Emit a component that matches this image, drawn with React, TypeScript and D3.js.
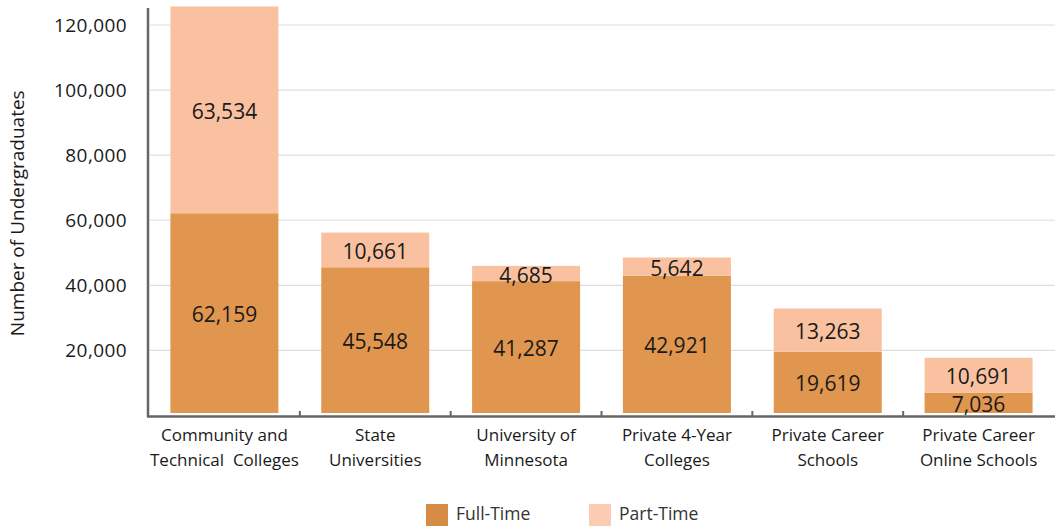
import React from "react";
import * as d3 from "d3";

const categories = [
  ["Community and", "Technical  Colleges"],
  ["State", "Universities"],
  ["University of", "Minnesota"],
  ["Private 4-Year", "Colleges"],
  ["Private Career", "Schools"],
  ["Private Career", "Online Schools"],
];
const fullTime = [62159, 45548, 41287, 42921, 19619, 7036];
const partTime = [63534, 10661, 4685, 5642, 13263, 10691];
const yTicks = [20000, 40000, 60000, 80000, 100000, 120000];
const seriesNames = ["Full-Time", "Part-Time"];

const W = 1055;
const H = 527;
const FONT = "'Open Sans', 'Noto Sans', sans-serif";
const FULL_COLOR = "#E0964F";
const PART_COLOR = "#FAC1A0";
const AXIS_COLOR = "#666666";

export default function App() {
  const x = d3
    .scaleBand<number>()
    .domain(d3.range(categories.length))
    .range([149, 1054])
    .paddingInner(0.284)
    .paddingOuter(0.142);
  const y = d3.scaleLinear().domain([0, 120000]).range([415.5, 25]);
  const fmt = d3.format(",");

  const stacks = categories.map((_, i) => {
    const f = fullTime[i];
    const p = partTime[i];
    return [
      { y0: 0, y1: f, v: f, c: FULL_COLOR },
      { y0: f, y1: f + p, v: p, c: PART_COLOR },
    ];
  });

  const step = x.step();
  const x0 = x(0)! - step * x.paddingOuter();

  return (
    <svg width={W} height={H} style={{ position: "absolute", left: 0, top: 0, fontFamily: FONT }}>
      <rect width={W} height={H} fill="#ffffff" />
      {yTicks.map((t) => (
        <line key={t} x1={150} x2={W} y1={y(t)} y2={y(t)} stroke="#dedede" strokeWidth={1.2} />
      ))}
      {stacks.map((segs, i) =>
        segs.map((s, j) => {
          const top = y(s.y1);
          const bottom = j === 0 ? y(s.y0) - 2.5 : y(s.y0);
          return (
            <rect key={`${i}-${j}`} x={x(i)} width={x.bandwidth()} y={top} height={bottom - top} fill={s.c} />
          );
        })
      )}
      {stacks.map((segs, i) =>
        segs.map((s, j) => {
          const top = y(s.y1);
          const bottom = j === 0 ? y(s.y0) - 2.5 : y(s.y0);
          return (
            <text
              key={`l${i}-${j}`}
              x={x(i)! + x.bandwidth() / 2}
              y={(top + bottom) / 2 + 9}
              textAnchor="middle"
              fontSize={21}
              fill="#1a1a1a"
            >
              {fmt(s.v)}
            </text>
          );
        })
      )}
      <line x1={148} x2={148} y1={8} y2={417} stroke={AXIS_COLOR} strokeWidth={2.5} />
      {yTicks.map((t) => (
        <text key={`yt${t}`} x={127} y={y(t) + 7} textAnchor="end" fontSize={19} letterSpacing={0.4} fill="#1a1a1a">
          {fmt(t)}
        </text>
      ))}
      <text
        transform={`translate(24, ${y(60000) - 7}) rotate(-90)`}
        textAnchor="middle"
        fontSize={19}
        fill="#1a1a1a"
      >
        Number of Undergraduates
      </text>
      <line x1={147} x2={W} y1={416.5} y2={416.5} stroke={AXIS_COLOR} strokeWidth={2.5} />
      {d3.range(1, categories.length).map((i) => {
        const bx = x0 + step * i;
        return <line key={`xt${i}`} x1={bx} x2={bx} y1={411} y2={416} stroke={AXIS_COLOR} strokeWidth={2} />;
      })}
      {categories.map((lines, i) =>
        lines.map((ln, k) => (
          <text
            key={`c${i}-${k}`}
            x={x(i)! + x.bandwidth() / 2}
            y={441 + k * 24.5}
            textAnchor="middle"
            fontSize={17}
            fill="#1a1a1a"
            style={{ whiteSpace: "pre" }}
          >
            {ln}
          </text>
        ))
      )}
      {seriesNames.map((name, i) => {
        const lx = 426 + i * 163;
        return (
          <g key={name}>
            <rect x={lx} y={504} width={22} height={22} fill={i === 0 ? "#D78C45" : "#FCCBB3"} />
            <text x={lx + 30} y={520} fontSize={17.5} fill="#333">
              {name}
            </text>
          </g>
        );
      })}
    </svg>
  );
}
